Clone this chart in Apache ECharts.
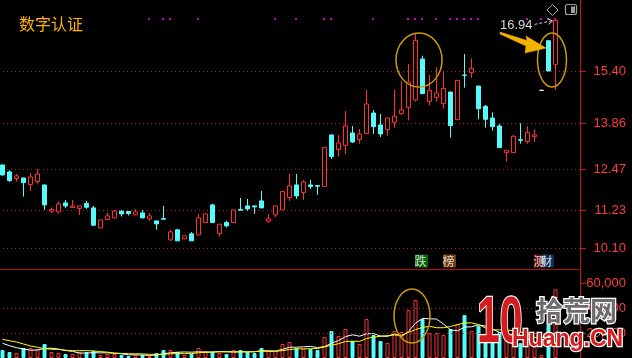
<!DOCTYPE html>
<html><head><meta charset="utf-8">
<script src="https://cdn.jsdelivr.net/npm/echarts@6/dist/echarts.min.js"></script>
<style>html,body{margin:0;padding:0;background:#000;}#c{width:632px;height:358px;}</style>
</head><body><div id="c"></div>
<script>
// ---------- data ----------
const opens = [12.60,12.39,12.19,12.21,12.01,12.10,12.00,11.21,11.19,11.46, 11.32,11.29,11.44,11.31,10.71,10.96,11.01,11.21,11.20,11.10, 11.16,10.98,10.92,10.99,10.35,10.65,10.38,10.53,10.50,10.87, 11.40,10.54,10.87,10.87,11.26,11.37,11.37,11.52,10.91,11.10, 11.25,11.62,12.00,11.77,12.00,11.98,11.95,13.50,13.06,13.19, 13.56,13.36,13.54,14.16,13.80,13.66,13.88,14.14,14.33,14.55, 15.78,14.51,14.63,14.44,14.79,13.96,15.30,15.37,14.97,14.36, 14.01,13.77,12.97,12.97,13.36,13.30,13.45,14.84,16.33,15.62];
const closes = [12.30,12.13,12.27,12.07,12.24,12.33,11.40,11.26,11.43,11.37, 11.37,11.37,11.33,10.79,10.95,11.07,11.22,11.13,11.14,11.19, 11.01,11.07,10.83,10.97,10.59,10.32,10.47,10.32,11.01,11.13, 10.87,10.82,10.77,11.25,11.24,11.28,11.34,11.31,10.98,11.37, 11.80,11.97,11.67,12.09,11.95,11.96,13.13,12.85,13.26,13.77, 13.29,13.53,14.43,13.75,13.53,14.01,14.06,14.25,15.09,16.34, 14.74,14.84,14.76,14.90,13.78,15.14,15.29,15.50,14.29,13.97, 13.75,13.12,13.04,13.46,13.34,13.58,13.50,14.84,15.42,16.94];
const lows = [12.28,12.09,12.10,11.65,11.82,12.04,11.25,11.15,11.14,11.30, 11.32,11.10,11.28,10.76,10.70,10.95,11.00,11.05,11.08,11.09, 11.00,10.92,10.65,10.97,10.32,10.32,10.37,10.32,10.50,10.87, 10.87,10.45,10.72,10.87,11.24,11.22,11.13,11.30,10.86,11.04, 11.25,11.52,11.58,11.55,11.88,11.70,11.95,12.78,12.85,12.93, 13.26,13.24,13.54,13.53,13.44,13.47,13.72,14.10,13.94,14.50, 14.74,14.39,14.50,14.29,13.42,13.96,14.92,15.22,13.97,13.72, 13.63,13.12,12.70,12.96,13.24,13.24,13.30,14.84,15.42,14.85];
const highs = [12.60,12.44,12.33,12.21,12.35,12.48,12.00,11.32,11.50,11.55, 11.55,11.37,11.52,11.37,10.95,11.16,11.25,11.25,11.20,11.27, 11.25,11.16,10.92,11.37,10.65,10.68,10.47,10.59,11.13,11.13, 11.43,10.82,10.92,11.25,11.61,11.58,11.37,11.82,11.13,11.37, 11.82,12.33,12.33,12.15,12.15,11.98,13.13,13.52,13.50,14.22, 13.77,13.68,14.85,14.25,14.13,14.02,14.85,15.13,15.63,16.55, 15.88,15.30,15.52,15.41,14.79,15.15,15.93,15.80,14.97,14.40, 14.18,13.83,13.04,13.50,13.85,13.77,13.67,14.84,16.35,16.94];
const volumes = [6450,4840,4030,8070,8070,7260,11290,4840,4030,3230, 3230,4600,4840,5650,2420,3230,3230,2420,1610,2420, 2420,1610,4030,6450,6450,4840,2420,3230,8070,5650, 4840,4030,3230,6450,6450,4840,4030,8070,5650,5650, 11290,12900,8070,7260,7260,6450,16940,21770,17740,23390, 13710,11290,31450,18550,13710,12100,21770,20970,38710,46770, 31450,20160,20160,18550,23390,27420,34680,22000,26000,19000, 15000,21000,17000,16000,12000,11000,9000,2500,27000,55400];
// moving-average values read where the window starts before the visible range
const ma5Head = [11860, 9920, 8310, 7260];
const ma10Head = [15080, 13950, 12900, 11290, 9680, 8630, 7500, 7020, 7020];
const priceTicks = [15.40, 13.86, 12.47, 11.23, 10.10];
const volumeTicks = [20000, 40000, 60000];
const volumeGridValues = [20000, 40000];
const signalIdx = [5,6,21,23,24,28,39,42,46,47,53,58,59,60,62,64,65,66,67,68,75,77,78,79];
const badgeIdx = [60, 64, 77, 78];
const badgeText = ['跌', '榜', '测', '财'];
const titleText = '数字认证';
const slotCount = 83;
const categories = Array.from({length: slotCount}, (_, i) => 'D' + (i + 1));

// ---------- chart ----------
const UP = '#ff3232', DOWN = '#54fcfc', AXIS = '#c41818';
const badgeColors = ['#0c7c0c', '#8a4a12', '#8c1212', '#0c3a6c'];
const chart = echarts.init(document.getElementById('c'), null, {renderer: 'canvas'});

const candleData = opens.map((o, i) => {
  const v = [o, closes[i], lows[i], highs[i]];
  if (o === closes[i]) return {value: v, itemStyle: {color: '#fff', color0: '#fff', borderColor: '#fff', borderColor0: '#fff'}};
  return v;
});
const isUp = i => closes[i] > opens[i] || (closes[i] === opens[i] && (i === 0 || closes[i] >= closes[i - 1]));
const volData = volumes.map((v, i) => isUp(i)
  ? {value: v, itemStyle: {color: '#000', borderColor: UP, borderWidth: 1}}
  : {value: v, itemStyle: {color: DOWN, borderColor: DOWN, borderWidth: 1}});
function movingAvg(n, head) {
  return volumes.map((v, i) => {
    if (i < n - 1) return head[i];
    let s = 0; for (let k = i - n + 1; k <= i; k++) s += volumes[k];
    return Math.round(s / n);
  });
}
const signalLevel = 16.98, badgeLevel = 9.715;

chart.setOption({
  animation: false,
  backgroundColor: '#000',
  grid: [
    {left: -1, right: 52, top: 0, height: 269, outerBoundsMode: 'none'},
    {left: -1, right: 52, top: 270, height: 88, outerBoundsMode: 'none'}
  ],
  xAxis: [
    {type: 'category', gridIndex: 0, data: categories, boundaryGap: true,
     axisLine: {show: true, lineStyle: {color: '#b41010'}}, axisTick: {show: false}, axisLabel: {show: false}, splitLine: {show: false}},
    {type: 'category', gridIndex: 1, data: categories, boundaryGap: true,
     axisLine: {show: false}, axisTick: {show: false}, axisLabel: {show: false}, splitLine: {show: false}}
  ],
  yAxis: [
    {type: 'value', gridIndex: 0, position: 'right', min: 9.475, max: 17.553,
     axisLine: {show: true, lineStyle: {color: AXIS}},
     axisTick: {show: true, customValues: priceTicks, length: 6, lineStyle: {color: AXIS}},
     axisLabel: {customValues: priceTicks, formatter: v => Number(v).toFixed(2), color: '#ff3c3c', fontSize: 13, fontFamily: 'Liberation Sans', align: 'right', margin: 46},
     splitLine: {show: true, lineStyle: {color: '#a82020', type: [1, 3], width: 1}}},
    {type: 'value', gridIndex: 1, position: 'right', min: 0, max: 71000,
     axisLine: {show: true, lineStyle: {color: AXIS}},
     axisTick: {show: true, customValues: volumeTicks, length: 6, lineStyle: {color: AXIS}},
     axisLabel: {customValues: volumeTicks, color: '#ff3c3c', fontSize: 13, fontFamily: 'Liberation Sans', align: 'right', margin: 46},
     splitLine: {show: false}}
  ],
  series: [
    {type: 'candlestick', xAxisIndex: 0, yAxisIndex: 0, data: candleData, barWidth: 4,
     itemStyle: {color: '#000', color0: DOWN, borderColor: UP, borderColor0: DOWN, borderWidth: 1}},
    {type: 'scatter', xAxisIndex: 0, yAxisIndex: 0, symbol: 'rect', symbolSize: [2, 2], symbolOffset: [-0.5, 0],
     itemStyle: {color: '#ff00ff'}, data: signalIdx.map(i => [i, signalLevel]), silent: true},
    {type: 'scatter', xAxisIndex: 0, yAxisIndex: 0, symbol: 'rect', symbolSize: [13, 13], symbolOffset: [-1, 0], silent: true,
     data: badgeIdx.map((i, k) => ({value: [i, badgeLevel], itemStyle: {color: badgeColors[k]},
       label: {show: true, position: 'inside', formatter: badgeText[k], color: '#fff', fontSize: 12, fontFamily: 'Noto Sans CJK SC', offset: [-1, 0]}}))},
    {type: 'bar', xAxisIndex: 1, yAxisIndex: 1, data: volData, barWidth: 4,
     markLine: {silent: true, symbol: 'none', label: {show: false},
       lineStyle: {color: '#a82020', type: [1, 3], width: 1},
       data: volumeGridValues.map(v => ({yAxis: v}))}},
    {type: 'line', xAxisIndex: 1, yAxisIndex: 1, data: movingAvg(5, ma5Head), showSymbol: false, smooth: false,
     lineStyle: {color: '#ffffff', width: 1}, silent: true},
    {type: 'line', xAxisIndex: 1, yAxisIndex: 1, data: movingAvg(10, ma10Head), showSymbol: false, smooth: false,
     lineStyle: {color: '#ffff00', width: 1}, silent: true}
  ]
});

// ---------- annotations anchored to data ----------
const px = (g, i, v) => chart.convertToPixel({xAxisIndex: g, yAxisIndex: g}, [i, v]);
const highlights = [
  {g: 0, a: 59, b: 60, v: 15.75, rx: 23, ry: 27},
  {g: 0, a: 78, b: 79, v: 15.75, rx: 14.5, ry: 27},
  {g: 1, a: 58, b: 59, v: 33900, rx: 18, ry: 27}
];
const gfx = [];
const centers = highlights.map(h => {
  const p1 = px(h.g, h.a, h.v), p2 = px(h.g, h.b, h.v);
  const c = [(p1[0] + p2[0]) / 2, p1[1]];
  gfx.push({type: 'ellipse', z: 50, silent: true, shape: {cx: c[0], cy: c[1], rx: h.rx, ry: h.ry},
    style: {fill: 'none', stroke: '#c89a10', lineWidth: 1.5}});
  return c;
});
// block arrow pointing at the last highlight
const ac = centers[1];
const arrowPts = [[-52,-28],[-25,-19.5],[-26,-24],[-6,-12],[-27,-7],[-26,-14],[-52,-26]];
gfx.push({type: 'polygon', z: 51, silent: true, shape: {points: arrowPts.map(p => [ac[0] + p[0], ac[1] + p[1]])},
  style: {fill: '#f4b200', stroke: '#f4b200', lineWidth: 0.5}});
// highest price label
let hi = 0; highs.forEach((h, i) => { if (h > highs[hi]) hi = i; });
const hp = px(0, hi, highs[hi]);
gfx.push({type: 'text', z: 52, silent: true, style: {text: highs[hi].toFixed(2), x: hp[0] - 23, y: hp[1] + 5.5,
  align: 'right', verticalAlign: 'middle', fill: '#d8d8d8', font: '13px "Liberation Sans"'}});
gfx.push({type: 'line', z: 52, silent: true, shape: {x1: hp[0] - 21, y1: hp[1] + 4, x2: hp[0] - 4, y2: hp[1] + 0.5},
  style: {stroke: '#d8d8d8', lineWidth: 1, lineDash: [3, 2]}});
gfx.push({type: 'polyline', z: 52, silent: true, shape: {points: [[hp[0] - 8, hp[1] - 2], [hp[0] - 3, hp[1] + 0.5], [hp[0] - 7, hp[1] + 4]]},
  style: {stroke: '#d8d8d8', lineWidth: 1, fill: 'none'}});
// title
gfx.push({type: 'text', z: 52, silent: true, style: {text: titleText, x: 19, y: 16, verticalAlign: 'top',
  fill: '#ffb400', font: '16px "Noto Sans CJK SC"'}});
// top-right icons
gfx.push({type: 'polygon', z: 52, silent: true, shape: {points: [[552.5, 4.5], [558, 10], [552.5, 15.5], [547, 10]]},
  style: {fill: 'none', stroke: '#a0a0a0', lineWidth: 1}});
gfx.push({type: 'rect', z: 52, silent: true, shape: {x: 565.5, y: 4.5, width: 11, height: 10, r: 2},
  style: {fill: 'none', stroke: '#a0a0a0', lineWidth: 1.2}});
gfx.push({type: 'rect', z: 52, silent: true, shape: {x: 571, y: 6.5, width: 4, height: 6.5},
  style: {fill: '#a0a0a0'}});
// watermark
gfx.push({type: 'text', z: 60, silent: true, x: 477, y: 292, scaleX: 0.64,
  style: {text: '10', x: 0, y: 0, verticalAlign: 'top', font: 'bold 64px "Liberation Sans"', fill: '#d41c1c', stroke: '#ffffff', lineWidth: 2.5}});
gfx.push({type: 'text', z: 60, silent: true, style: {text: '拾荒网', x: 536, y: 297, verticalAlign: 'top',
  font: 'bold 27px "Noto Sans CJK SC"', fill: '#6c6c6c', stroke: '#ffffff', lineWidth: 2.5}});
gfx.push({type: 'text', z: 60, silent: true, style: {text: 'Huang.CN', x: 512, y: 328, verticalAlign: 'top',
  font: 'bold 23px "Liberation Sans"', fill: '#d41c1c', stroke: '#ffffff', lineWidth: 2.5}});
chart.setOption({graphic: gfx});
</script></body></html>
